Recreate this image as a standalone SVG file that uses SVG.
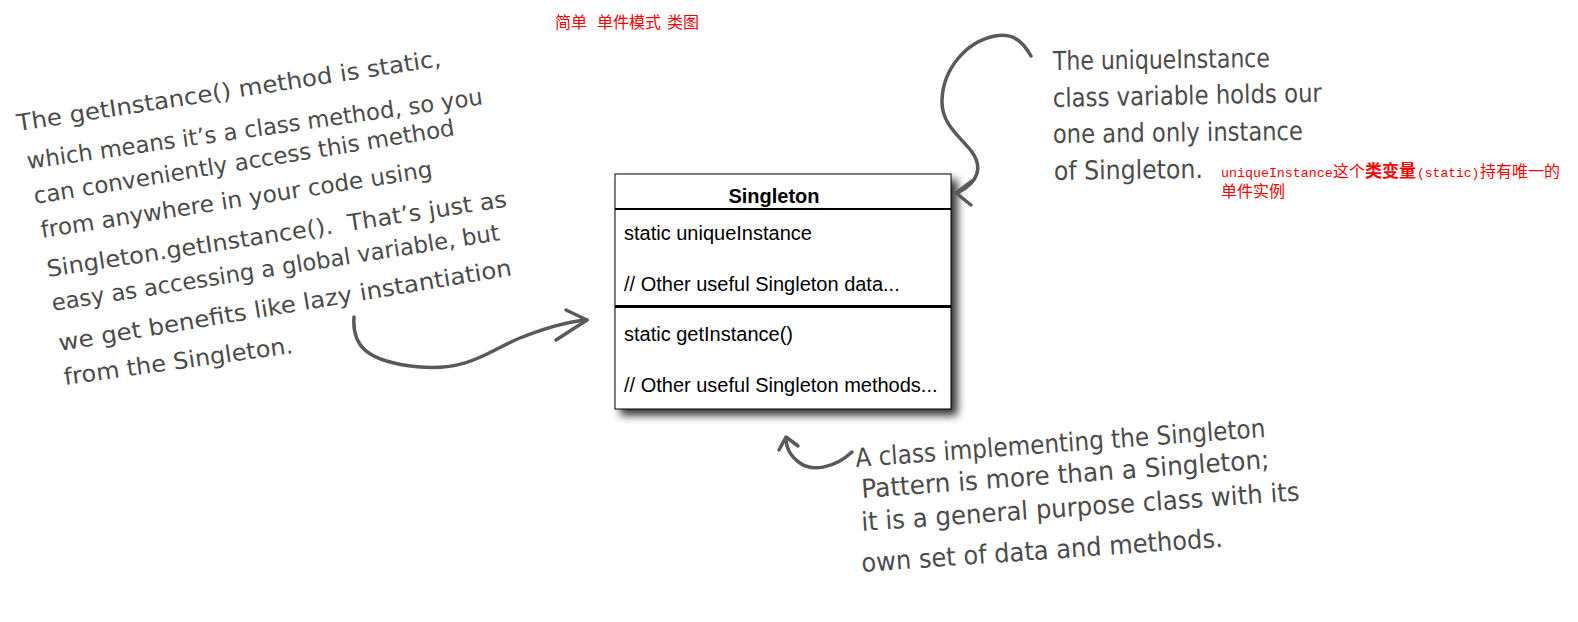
<svg xmlns="http://www.w3.org/2000/svg" width="1578" height="622" viewBox="0 0 1578 622">
<style>
.hw{font-family:"DejaVu Sans","Liberation Sans",sans-serif;fill:#4b4b4b;}
.hl{font-size:23px;}
.hr{font-size:26px;}
.hb{font-size:26px;}
.red{fill:#ff0000;font-family:"Noto Sans CJK SC","Noto Sans CJK JP",sans-serif;font-size:16px;}
.mono{font-family:"Liberation Mono","Noto Sans CJK SC",monospace;}
.cls{font-family:"Liberation Sans",Arial,sans-serif;font-size:20px;fill:#000;}
.arrow{fill:none;stroke:#5a5a5a;stroke-width:3.5;stroke-linecap:round;stroke-linejoin:round;}
</style>
<defs>
<filter id="sh" x="-10%" y="-10%" width="130%" height="130%">
<feGaussianBlur in="SourceAlpha" stdDeviation="4"/>
<feOffset dx="6" dy="6" result="o"/>
<feComponentTransfer><feFuncA type="linear" slope="0.8"/></feComponentTransfer>
<feMerge><feMergeNode/><feMergeNode in="SourceGraphic"/></feMerge>
</filter>
</defs>
<rect width="1578" height="622" fill="#fff"/>

<g id="title">
<text class="red" y="28"><tspan x="555">简单</tspan><tspan x="597">单件模式</tspan><tspan x="667">类图</tspan></text>
</g>

<g id="note-cn">
<text class="red" y="177"><tspan class="mono" x="1221" font-size="13.3">uniqueInstance</tspan><tspan x="1333">这个</tspan><tspan x="1365" font-weight="bold" font-size="17">类变量</tspan><tspan class="mono" x="1417" font-size="13">(static)</tspan><tspan x="1480">持有唯一的</tspan></text>
<text class="red" x="1221" y="197">单件实例</text>
</g>

<g id="class-singleton">
<rect x="615" y="174" width="336" height="235" fill="#fff" stroke="#000" stroke-width="1" filter="url(#sh)"/>
<line x1="615" y1="209" x2="951" y2="209" stroke="#000" stroke-width="2"/>
<line x1="615" y1="306.5" x2="951" y2="306.5" stroke="#000" stroke-width="3"/>
<text class="cls" x="774" y="203" text-anchor="middle" font-weight="bold" font-size="19">Singleton</text>
<text class="cls" x="624" y="240">static uniqueInstance</text>
<text class="cls" x="624" y="291">// Other useful Singleton data...</text>
<text class="cls" x="624" y="341">static getInstance()</text>
<text class="cls" x="624" y="392">// Other useful Singleton methods...</text>
</g>

<g id="note-left" class="hw hl">
<text transform="translate(18,131) rotate(-8.7)" textLength="429" lengthAdjust="spacingAndGlyphs">The getInstance() method is static,</text>
<text transform="translate(28,169) rotate(-8.1)" textLength="460" lengthAdjust="spacingAndGlyphs">which means it’s a class method, so you</text>
<text transform="translate(35,204) rotate(-9.3)" textLength="426" lengthAdjust="spacingAndGlyphs">can conveniently access this method</text>
<text transform="translate(42,238) rotate(-8.9)" textLength="396" lengthAdjust="spacingAndGlyphs">from anywhere in your code using</text>
<text transform="translate(48,277) rotate(-8.7)" textLength="465" lengthAdjust="spacingAndGlyphs" xml:space="preserve">Singleton.getInstance().  That’s just as</text>
<text transform="translate(53,311) rotate(-9.0)" textLength="453" lengthAdjust="spacingAndGlyphs">easy as accessing a global variable, but</text>
<text transform="translate(60,351) rotate(-9.5)" textLength="459" lengthAdjust="spacingAndGlyphs">we get benefits like lazy instantiation</text>
<text transform="translate(65,385) rotate(-8.0)" textLength="231" lengthAdjust="spacingAndGlyphs">from the Singleton.</text>
</g>

<g id="note-right" class="hw hr">
<text transform="translate(1053,70) rotate(-0.8)" textLength="217" lengthAdjust="spacingAndGlyphs">The uniqueInstance</text>
<text transform="translate(1053,107) rotate(-1.1)" textLength="269" lengthAdjust="spacingAndGlyphs">class variable holds our</text>
<text transform="translate(1053,143) rotate(-0.7)" textLength="250" lengthAdjust="spacingAndGlyphs">one and only instance</text>
<text transform="translate(1054,180) rotate(-0.8)" textLength="149" lengthAdjust="spacingAndGlyphs">of Singleton.</text>
</g>

<g id="note-bottom" class="hw hb">
<text transform="translate(856,467) rotate(-4.2)" textLength="411" lengthAdjust="spacingAndGlyphs">A class implementing the Singleton</text>
<text transform="translate(862,498) rotate(-4.2)" textLength="409" lengthAdjust="spacingAndGlyphs">Pattern is more than a Singleton;</text>
<text transform="translate(862,531) rotate(-4.0)" textLength="439" lengthAdjust="spacingAndGlyphs">it is a general purpose class with its</text>
<text transform="translate(862,572) rotate(-4.0)" textLength="362" lengthAdjust="spacingAndGlyphs">own set of data and methods.</text>
</g>

<g id="connectors">
<path class="arrow" d="M354,317 C352,345 365,362 420,367 C470,371 490,350 520,338 C545,328 565,322 587,320"/>
<path class="arrow" d="M566,310 L587,320 L556,340"/>
<path class="arrow" d="M852,452 C835,468 812,472 800,463 C790,456 786,447 786,438"/>
<path class="arrow" d="M779,450 L786,437 L798,446"/>
<path class="arrow" d="M1031,56 C1022,40 1012,33 995,36 C965,42 943,70 942,100 C941,125 962,138 972,152 C982,166 980,182 957,193"/>
<path class="arrow" d="M972,181 L956,193 L971,205"/>
</g>
</svg>
